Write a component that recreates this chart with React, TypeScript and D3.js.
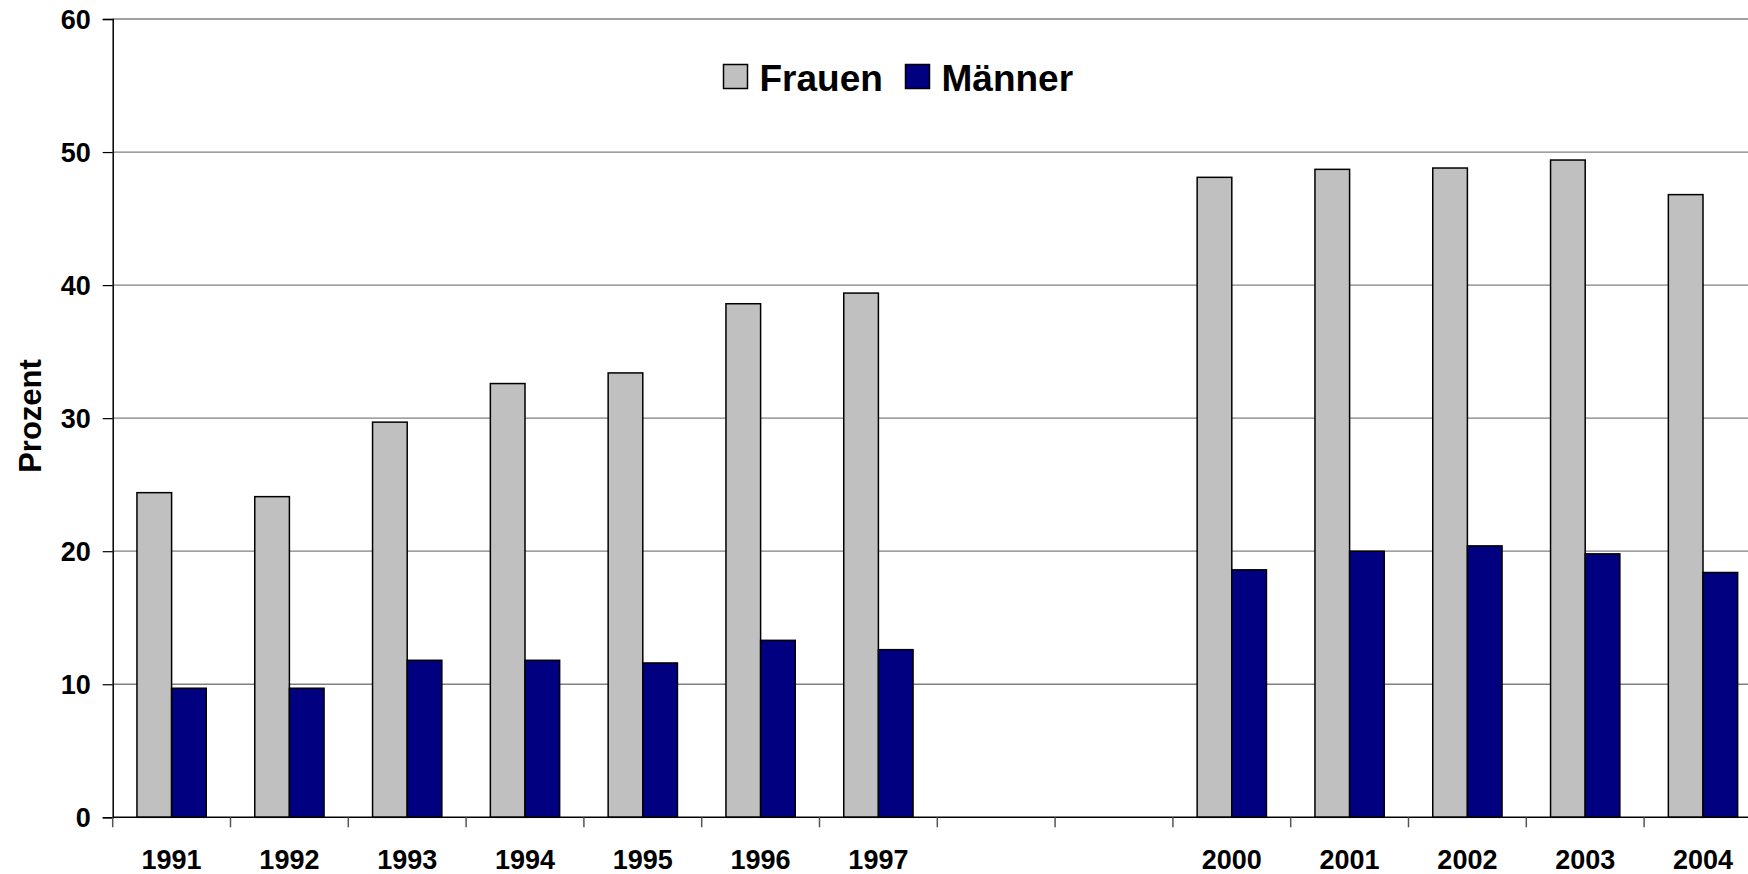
import React, { useEffect, useRef } from "react";
import * as d3 from "d3";

// Anteil in Prozent
const years = ["1991", "1992", "1993", "1994", "1995", "1996", "1997", "1998", "1999", "2000", "2001", "2002", "2003", "2004"];
const shownYears = ["1991", "1992", "1993", "1994", "1995", "1996", "1997", "2000", "2001", "2002", "2003", "2004"];
const series = ["Frauen", "Männer"];
const frauen = [24.4, 24.1, 29.7, 32.6, 33.4, 38.6, 39.4, null, null, 48.1, 48.7, 48.8, 49.4, 46.8];
const maenner = [9.7, 9.7, 11.8, 11.8, 11.6, 13.3, 12.6, null, null, 18.6, 20.0, 20.4, 19.8, 18.4];
const yTicks = [0, 10, 20, 30, 40, 50, 60];

const W = 1748, H = 874;
const font = "'Liberation Sans', Arial, sans-serif";

export default function App() {
  const ref = useRef<SVGSVGElement>(null);

  useEffect(() => {
    const svg = d3.select(ref.current);
    svg.selectAll("*").remove();

    const left = 112.7, step = 117.8;
    const x = d3.scaleBand().domain(years).range([left, left + years.length * step]).padding(0);
    const xi = d3.scaleBand().domain(series).range([0, x.bandwidth()]).paddingInner(0).paddingOuter(0.7);
    const y = d3.scaleLinear().domain([0, 60]).range([817.3, 19]);
    const colors = { Frauen: "#C0C0C0", "Männer": "#000080" };

    // gridlines
    svg.append("g")
      .selectAll("line")
      .data(yTicks.filter(d => d > 0))
      .join("line")
      .attr("x1", left).attr("x2", W)
      .attr("y1", d => y(d)).attr("y2", d => y(d))
      .attr("stroke", "#808080").attr("stroke-width", 1.3);

    // bars
    const rows = years.map((yr, i) => ({ yr, vals: [frauen[i], maenner[i]] }));
    const g = svg.append("g");
    rows.forEach(r => {
      series.forEach((s, j) => {
        const v = r.vals[j];
        if (v == null) return;
        g.append("rect")
          .attr("x", (x(r.yr) as number) + (xi(s) as number))
          .attr("y", y(v))
          .attr("width", xi.bandwidth())
          .attr("height", y(0) - y(v))
          .attr("fill", colors[s])
          .attr("stroke", "#000").attr("stroke-width", 1.5);
      });
    });

    // y axis
    const yAxis = svg.append("g").attr("transform", `translate(${left},0)`)
      .call(d3.axisLeft(y).tickValues(yTicks).tickSize(10).tickPadding(12).tickFormat(d3.format("d")));
    yAxis.select(".domain").attr("stroke", "#000").attr("stroke-width", 1.5);
    yAxis.selectAll(".tick line").attr("stroke", "#000").attr("stroke-width", 1.2);
    yAxis.selectAll("text").attr("font-family", font).attr("font-weight", "bold")
      .attr("font-size", 27).attr("fill", "#000").attr("dy", "0.35em");

    // x axis with ticks on category boundaries
    svg.append("line")
      .attr("x1", left).attr("x2", W).attr("y1", y(0)).attr("y2", y(0))
      .attr("stroke", "#000").attr("stroke-width", 1.5);
    svg.append("g").selectAll("line")
      .data(years)
      .join("line")
      .attr("x1", d => x(d) as number).attr("x2", d => x(d) as number)
      .attr("y1", y(0)).attr("y2", y(0) + 10)
      .attr("stroke", "#555").attr("stroke-width", 1.5);
    svg.append("g").selectAll("text")
      .data(shownYears)
      .join("text")
      .attr("x", d => (x(d) as number) + x.bandwidth() / 2)
      .attr("y", 869)
      .attr("text-anchor", "middle")
      .attr("font-family", font).attr("font-weight", "bold").attr("font-size", 27)
      .text(d => d);

    // y title
    svg.append("text")
      .attr("transform", "translate(41,416) rotate(-90)")
      .attr("text-anchor", "middle")
      .attr("font-family", font).attr("font-weight", "bold").attr("font-size", 31)
      .text("Prozent");

    // legend
    const legendX = [723.5, 905.5];
    const lg = svg.append("g");
    series.forEach((s, i) => {
      lg.append("rect")
        .attr("x", legendX[i]).attr("y", 64.5).attr("width", 24).attr("height", 24)
        .attr("fill", colors[s]).attr("stroke", "#000").attr("stroke-width", 1.5);
      lg.append("text")
        .attr("x", legendX[i] + 36).attr("y", 91)
        .attr("font-family", font).attr("font-weight", "bold").attr("font-size", 37)
        .text(s);
    });
  }, []);

  return (
    <svg ref={ref} width={W} height={H}
      style={{ position: "absolute", left: 0, top: 0, background: "#fff", display: "block" }} />
  );
}
